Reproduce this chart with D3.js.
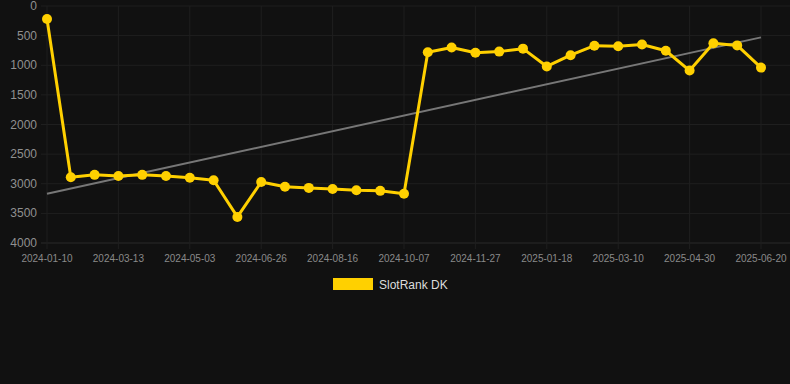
<!DOCTYPE html>
<html>
<head>
<meta charset="utf-8">
<script src="https://cdn.jsdelivr.net/npm/d3@7"></script>
<style>
  body { margin: 0; background: #111111; }
  svg { display: block; font-family: "Liberation Sans", Arial, sans-serif; }
</style>
</head>
<body>
<div class="chart"></div>
<script>
// --- Data ---
const dates = [
  "2024-01-10", "2024-01-31", "2024-02-21", "2024-03-13", "2024-03-30", "2024-04-16",
  "2024-05-03", "2024-05-21", "2024-06-08", "2024-06-26", "2024-07-13", "2024-07-30",
  "2024-08-16", "2024-09-02", "2024-09-20", "2024-10-07", "2024-10-24", "2024-11-10",
  "2024-11-27", "2024-12-14", "2025-01-01", "2025-01-18", "2025-02-04", "2025-02-21",
  "2025-03-10", "2025-03-27", "2025-04-13", "2025-04-30", "2025-05-17", "2025-06-03",
  "2025-06-20"
];
const ranks = [
  220, 2890, 2850, 2870, 2850, 2870, 2900, 2940, 3560, 2970, 3050, 3070,
  3090, 3110, 3120, 3170, 780, 700, 790, 770, 720, 1020, 830, 670,
  680, 650, 755, 1090, 630, 665, 1040
];
const yTicks = [0, 500, 1000, 1500, 2000, 2500, 3000, 3500, 4000];
const seriesName = "SlotRank DK";

// --- Setup ---
const width = 790, height = 384;
const margin = { top: 6, right: 29, bottom: 141, left: 47 };
const lineColor = "#FFD000";

const svg = d3.select(".chart").append("svg")
  .attr("width", width)
  .attr("height", height);

svg.append("rect").attr("width", width).attr("height", height).attr("fill", "#111111");

const x = d3.scalePoint().domain(dates).range([margin.left, width - margin.right]);
const y = d3.scaleLinear().domain([0, 4000]).range([margin.top, height - margin.bottom]);

const shownDates = dates.filter((d, i) => i % 3 === 0);

// grid
svg.append("g")
  .selectAll("line.h")
  .data(yTicks)
  .join("line")
  .attr("x1", margin.left - 6).attr("x2", width)
  .attr("y1", d => y(d)).attr("y2", d => y(d))
  .attr("stroke", d => d === 4000 ? "#2a2a2a" : "#1f1f1f")
  .attr("stroke-width", 1);

svg.append("g")
  .selectAll("line.v")
  .data(shownDates)
  .join("line")
  .attr("x1", d => x(d)).attr("x2", d => x(d))
  .attr("y1", margin.top).attr("y2", y(4000) + 6)
  .attr("stroke", "#1f1f1f")
  .attr("stroke-width", 1);

// y labels
svg.append("g")
  .selectAll("text")
  .data(yTicks)
  .join("text")
  .attr("x", 37)
  .attr("y", d => y(d) + 4)
  .attr("text-anchor", "end")
  .attr("fill", "#909090")
  .attr("font-size", 12)
  .text(d => d);

// x labels
svg.append("g")
  .selectAll("text")
  .data(shownDates)
  .join("text")
  .attr("x", d => x(d))
  .attr("y", 262)
  .attr("text-anchor", "middle")
  .attr("fill", "#8a8a8a")
  .attr("font-size", 10)
  .text(d => d);

// trend line (least squares over index)
const n = ranks.length;
const mi = d3.mean(d3.range(n)), mv = d3.mean(ranks);
const slope = d3.sum(ranks, (v, i) => (i - mi) * (v - mv)) / d3.sum(d3.range(n), i => (i - mi) ** 2);
const icpt = mv - slope * mi;
svg.append("line")
  .attr("x1", x(dates[0])).attr("y1", y(icpt))
  .attr("x2", x(dates[n - 1])).attr("y2", y(icpt + slope * (n - 1)))
  .attr("stroke", "#777777")
  .attr("stroke-width", 2);

// line + points
const line = d3.line().x((d, i) => x(dates[i])).y(d => y(d));
svg.append("path")
  .datum(ranks)
  .attr("d", line)
  .attr("fill", "none")
  .attr("stroke", lineColor)
  .attr("stroke-width", 3)
  .attr("stroke-linejoin", "round");

svg.append("g")
  .selectAll("circle")
  .data(ranks)
  .join("circle")
  .attr("cx", (d, i) => x(dates[i]))
  .attr("cy", d => y(d))
  .attr("r", 5)
  .attr("fill", lineColor);

// legend
const legend = svg.append("g").attr("transform", "translate(333,278)");
legend.append("rect").attr("width", 40).attr("height", 12).attr("fill", lineColor);
legend.append("text")
  .attr("x", 46).attr("y", 10.5)
  .attr("fill", "#dddddd")
  .attr("font-size", 12)
  .text(seriesName);
</script>
</body>
</html>
